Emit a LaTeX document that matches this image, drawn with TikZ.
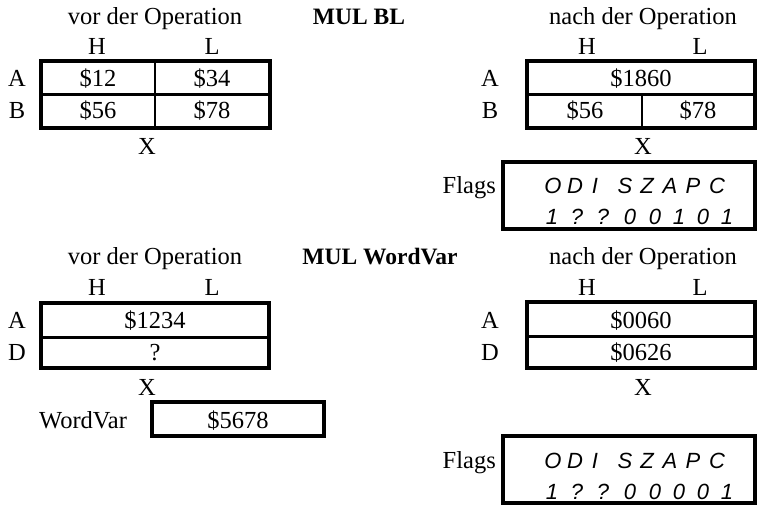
\documentclass[tikz,border=0pt]{standalone}
\usepackage{fontspec}
\setmainfont{Liberation Serif}
\newfontfamily\flagfont{Liberation Sans}
\begin{document}
\begin{tikzpicture}[x=1pt,y=-1pt,
  lbl/.style={inner sep=0pt,anchor=center,text height=16pt,text depth=0pt,font=\fontsize{24.5}{28}\selectfont},
  ttl/.style={lbl,font=\fontsize{23.5}{27}\selectfont\bfseries},
  flg/.style={inner sep=0pt,anchor=center,text height=16pt,text depth=0pt,font=\fontsize{22}{26}\selectfont\flagfont\itshape},
  outer/.style={line width=3.5pt},
  hdiv/.style={line width=3pt},
  vdiv/.style={line width=2pt}]
\useasboundingbox (0,0) rectangle (758,505);

% ---------- top left ----------
\node[lbl] (t1) at (155,17) {vor der Operation};
\node[lbl] (h1) at (97,47) {H};
\node[lbl] (l1) at (212,47) {L};
\node[lbl] (a1) at (17,79) {A};
\node[lbl] (b1) at (17,111) {B};
\draw[outer] (41,61) rectangle (270,128);
\draw[hdiv] (41,95) -- (270,95);
\draw[vdiv] (155,61) -- (155,128);
\node[lbl] (v1) at (98,79) {\$12};
\node[lbl] (v2) at (212,79) {\$34};
\node[lbl] (v3) at (98,111) {\$56};
\node[lbl] (v4) at (212,111) {\$78};
\node[lbl] (x1) at (147,147) {X};

\node[ttl] (mul1) at (359,17) {MUL BL};

% ---------- top right ----------
\node[lbl] (t2) at (643,17) {nach der Operation};
\node[lbl] (h2) at (587,47) {H};
\node[lbl] (l2) at (700,47) {L};
\node[lbl] (a2) at (490,79) {A};
\node[lbl] (b2) at (490,111) {B};
\draw[outer] (527,61) rectangle (755,128);
\draw[hdiv] (527,95) -- (755,95);
\draw[vdiv] (642,95) -- (642,128);
\node[lbl] (v5) at (641,79) {\$1860};
\node[lbl] (v6) at (585,111) {\$56};
\node[lbl] (v7) at (698,111) {\$78};
\node[lbl] (x2) at (643,147) {X};
\node[lbl,anchor=east] (fl1) at (496,186) {Flags};
\draw[outer] (503,162) rectangle (755,229);
\foreach \c/\xx [count=\i] in {O/553,D/575,I/595,S/625,Z/647,A/670,P/693,C/717}
  \node[flg] (fa\i) at (\xx,186) {\c};
\foreach \c/\xx [count=\i] in {1/552,?/577,?/603,0/630,0/655,1/679,0/703,1/727}
  \node[flg] (fb\i) at (\xx,217) {\c};

% ---------- bottom left ----------
\node[lbl] (t3) at (155,257) {vor der Operation};
\node[lbl] (h3) at (97,287) {H};
\node[lbl] (l3) at (212,287) {L};
\node[lbl] (a3) at (17,320) {A};
\node[lbl] (d3) at (17,352) {D};
\draw[outer] (41,303) rectangle (269,368);
\draw[hdiv] (41,337) -- (269,337);
\node[lbl] (v8) at (155,320) {\$1234};
\node[lbl] (v9) at (155,352) {?};
\node[lbl] (x3) at (147,387) {X};
\node[lbl] (wv) at (83,420) {WordVar};
\draw[outer] (152,402) rectangle (324,436);
\node[lbl] (v10) at (238,420) {\$5678};

\node[ttl] (mul2) at (380,257) {MUL WordVar};

% ---------- bottom right ----------
\node[lbl] (t4) at (643,257) {nach der Operation};
\node[lbl] (h4) at (587,287) {H};
\node[lbl] (l4) at (700,287) {L};
\node[lbl] (a4) at (490,320) {A};
\node[lbl] (d4) at (490,352) {D};
\draw[outer] (527,302) rectangle (755,368);
\draw[hdiv] (527,336) -- (755,336);
\node[lbl] (v11) at (641,320) {\$0060};
\node[lbl] (v12) at (641,352) {\$0626};
\node[lbl] (x4) at (643,387) {X};
\node[lbl,anchor=east] (fl2) at (496,460) {Flags};
\draw[outer] (503,436) rectangle (755,503);
\foreach \c/\xx [count=\i] in {O/553,D/575,I/595,S/625,Z/647,A/670,P/693,C/717}
  \node[flg] (ga\i) at (\xx,460) {\c};
\foreach \c/\xx [count=\i] in {1/552,?/577,?/603,0/630,0/655,0/679,0/703,1/727}
  \node[flg] (gb\i) at (\xx,491) {\c};
\end{tikzpicture}
\end{document}
